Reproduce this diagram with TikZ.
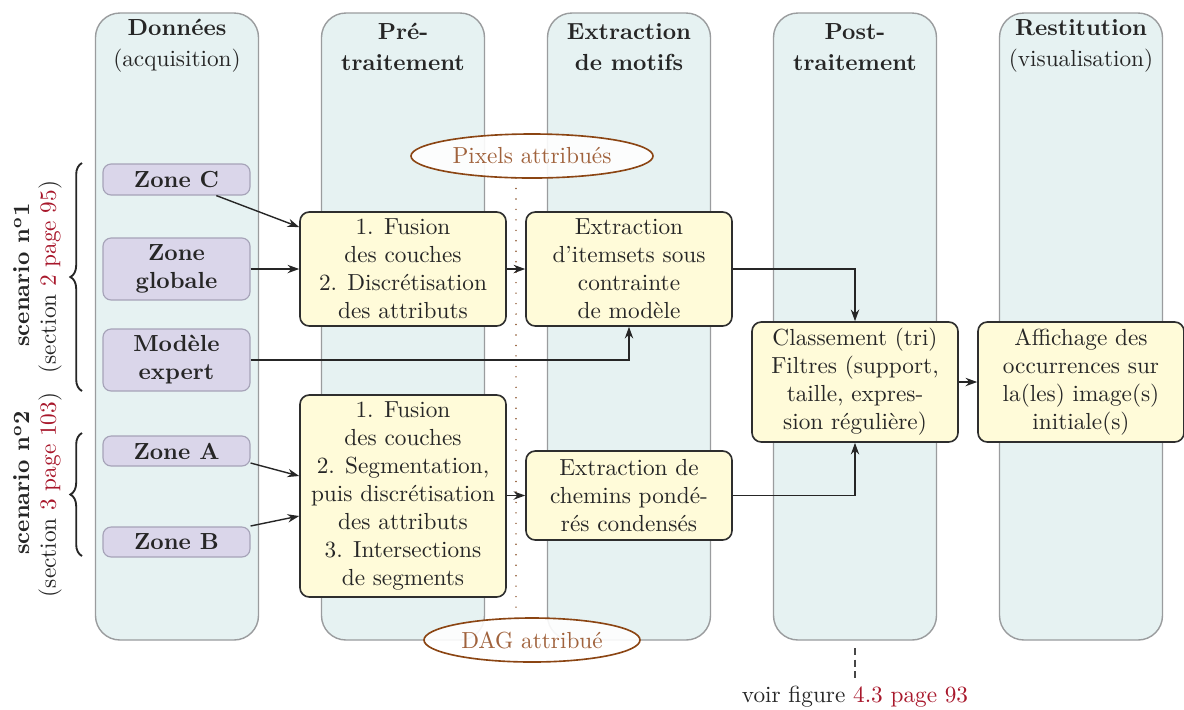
\documentclass[tikz,border=0pt]{standalone}
\usetikzlibrary{shapes.geometric,arrows.meta,calc,decorations.pathreplacing}
\definecolor{colfill}{HTML}{E6F2F2}
\definecolor{colborder}{HTML}{9A9C9E}
\definecolor{zonefill}{HTML}{DAD6EA}
\definecolor{zoneborder}{HTML}{A6A3B8}
\definecolor{boxfill}{HTML}{FFFBD9}
\definecolor{boxborder}{HTML}{2E2E2E}
\definecolor{ellborder}{HTML}{8B4513}
\definecolor{elltext}{HTML}{A0623C}
\definecolor{linkred}{HTML}{A8172B}
\definecolor{txt}{HTML}{262626}
\begin{document}
\begin{tikzpicture}[x=0.43pt,y=-0.43pt,
  every node/.style={text=txt},
  column/.style={draw=colborder, fill=colfill, rounded corners=10.5pt, minimum width=163*0.43pt, minimum height=627*0.43pt, inner sep=0pt, line width=0.6pt},
  header/.style={align=center, inner sep=0pt},
  zone/.style={draw=zoneborder, fill=zonefill, rounded corners=3.5pt, minimum width=147*0.43pt, inner sep=0pt, align=center, font=\bfseries, line width=0.5pt},
  proc/.style={draw=boxborder, fill=boxfill, rounded corners=4pt, minimum width=206*0.43pt, inner sep=0pt, align=center, line width=0.7pt},
  data/.style={ellipse, draw=ellborder, fill=white, fill opacity=0.9, text opacity=1, text=elltext, inner sep=0pt, line width=0.7pt},
  link/.style={-{Stealth[length=5pt,width=3.6pt]}, line width=0.6pt, draw=txt},
  bracestyle/.style={decorate, decoration={brace, amplitude=5pt}, line width=0.8pt, draw=txt}
]
\fill[white] (0,0) rectangle (1184,709);
\useasboundingbox (0,0) rectangle (1184,709);

% columns
\node[column] (col1) at (177,326.5) {};
\node[column] (col2) at (403,326.5) {};
\node[column] (col3) at (629,326.5) {};
\node[column] (col4) at (855,326.5) {};
\node[column] (col5) at (1081,326.5) {};

\node[header] (h1) at (177,46) {\textbf{Données}\\[1.5pt](acquisition)};
\node[header] (h2) at (403,47) {\textbf{Pré-}\\[1.5pt]\textbf{traitement}};
\node[header] (h3) at (629,47) {\textbf{Extraction}\\[1.5pt]\textbf{de motifs}};
\node[header] (h4) at (855,47) {\textbf{Post-}\\[1.5pt]\textbf{traitement}};
\node[header] (h5) at (1081,46) {\textbf{Restitution}\\[1.5pt](visualisation)};

% zones
\node[zone, minimum height=31*0.43pt] (zc) at (176.5,179.5) {Zone C};
\node[zone, minimum height=62*0.43pt] (zg) at (176.5,269) {Zone\\globale};
\node[zone, minimum height=62*0.43pt] (me) at (176.5,360) {Modèle\\expert};
\node[zone, minimum height=30*0.43pt] (za) at (176.5,451) {Zone A};
\node[zone, minimum height=30*0.43pt] (zb) at (176.5,542) {Zone B};

% process boxes
\node[proc, minimum height=114*0.43pt] (f1) at (403,269) {1. Fusion\\des couches\\2. Discrétisation\\des attributs};
\node[proc, minimum height=114*0.43pt] (e1) at (629,269) {Extraction\\d'itemsets sous\\contrainte\\de modèle};
\node[proc, minimum height=202*0.43pt] (f2) at (403,496) {1. Fusion\\des couches\\2. Segmentation,\\puis discrétisation\\des attributs\\3. Intersections\\de segments};
\node[proc, minimum height=89*0.43pt] (e2) at (629,495.5) {Extraction de\\chemins pondé-\\rés condensés};
\node[proc, minimum height=120*0.43pt] (cl) at (855,382) {Classement (tri)\\Filtres (support,\\taille, expres-\\sion régulière)};
\node[proc, minimum height=120*0.43pt] (af) at (1081,382) {Affichage des\\occurrences sur\\la(les) image(s)\\initiale(s)};

% dotted data line and ellipses
\coordinate (d1) at (516,178);
\coordinate (d2) at (516,614);
\draw[ellborder!80!gray, line width=0.7pt, line cap=round, dash pattern=on 0pt off 4.5pt] (d1) -- (d2);
\node[data, minimum width=242*0.43pt, minimum height=44*0.43pt] (pix) at (532,156) {Pixels attribués};
\node[data, minimum width=216*0.43pt, minimum height=44*0.43pt] (dag) at (532,640) {DAG attribué};

% connectors
\draw[link] (zc.-22) -- (f1.158);
\draw[link] (zg.east) -- (f1.west |- zg.east);
\draw[link] (me.east) -| (e1.south);
\draw[link] (f1.east) -- (e1.west);
\draw[link] (e1.east) -| (cl.north);
\draw[link] ($(za.east)+(0,12)$) -- ($(f2.west)+(0,-20)$);
\draw[link] ($(zb.east)+(0,-16)$) -- ($(f2.west)+(0,20)$);
\draw[link] (f2.east |- e2.west) -- (e2.west);
\draw[link] (e2.east) -| (cl.south);
\draw[link] (cl.east) -- (af.west);

% braces and scenario labels
\coordinate (b1a) at (82,391);
\coordinate (b1b) at (82,163);
\coordinate (b2a) at (82,556);
\coordinate (b2b) at (82,433);
\draw[bracestyle] (b1a) -- (b1b);
\draw[bracestyle] (b2a) -- (b2b);
\node[rotate=90, font=\bfseries, inner sep=0pt] (s1) at (22,275) {scenario n\textsuperscript{o}1};
\node[rotate=90, inner sep=0pt] (s1r) at (50,277) {(section \textcolor{linkred}{2 page 95})};
\node[rotate=90, font=\bfseries, inner sep=0pt] (s2) at (22,483) {scenario n\textsuperscript{o}2};
\node[rotate=90, inner sep=0pt] (s2r) at (50,495) {(section \textcolor{linkred}{3 page 103})};

% reference below
\node[inner sep=0pt] (voir) at (855,697) {voir figure \textcolor{linkred}{4.3 page 93}};
\coordinate (v1) at (855,648);
\coordinate (v2) at (855,681);
\draw[txt!85, line width=0.6pt, dash pattern=on 3pt off 2pt] (v1) -- (v2);
\end{tikzpicture}
\end{document}
